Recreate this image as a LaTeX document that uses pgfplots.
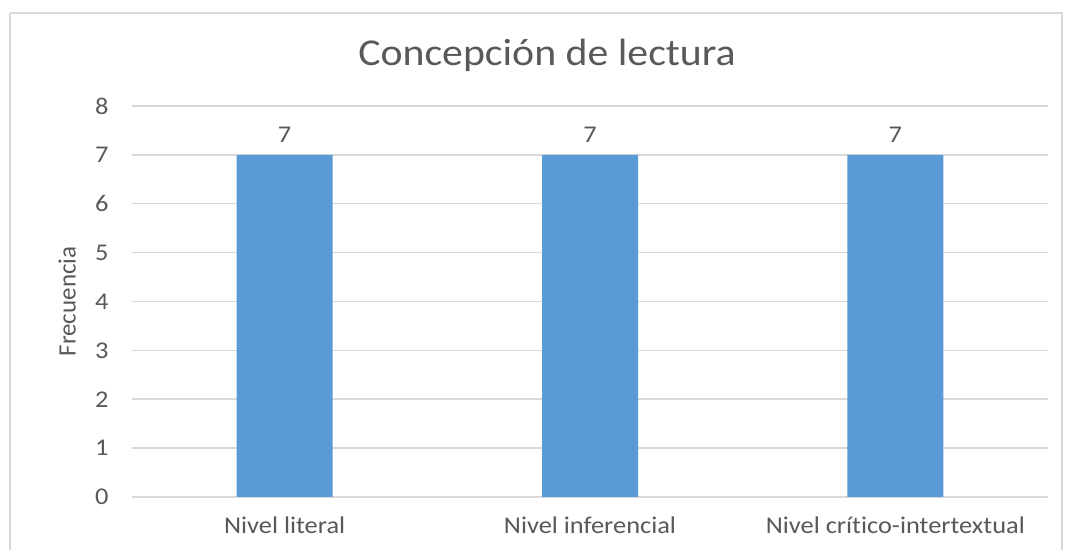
\documentclass[border=0pt]{standalone}
\usepackage{pgfplots}
\pgfplotsset{compat=1.18}
\usepackage{fontspec}
\setmainfont[FakeStretch=1.1, Ligatures={NoCommon}]{Carlito}
\newfontfamily\ylfont[Ligatures={NoCommon}]{Carlito}
\definecolor{txt}{RGB}{89,89,89}
\definecolor{gridc}{RGB}{217,217,217}
\definecolor{barc}{RGB}{91,155,213}
\begin{document}
\begin{tikzpicture}[x=1bp,y=1bp]
\useasboundingbox (0,0) rectangle (1068,550);
\fill[white] (0,0) rectangle (1068,550);
\draw[gridc, line width=1.5bp] (10,537) -- (10,-10);
\draw[gridc, line width=1.5bp] (10,537) -- (1062,537) -- (1062,-10);
\node[txt, font=\fontsize{38bp}{42bp}\selectfont] at (547,495) {Concepción de lectura};
\begin{axis}[
  at={(132bp,53bp)}, anchor=south west,
  scale only axis, width=916bp, height=391bp,
  xmin=-0.5, xmax=2.5, ymin=0, ymax=8,
  ytick={0,1,...,8},
  xtick={0,1,2},
  xticklabels={Nivel literal, Nivel inferencial, Nivel crítico-intertextual},
  xmajorgrids=false,
  ymajorgrids, grid style={draw=gridc, line width=1.5bp},
  axis line style={draw=none},
  major tick length=0pt,
  ticklabel style={txt, font=\fontsize{24bp}{28bp}\selectfont},
  /pgf/number format/assume math mode=true,
  yticklabel style={xshift=-20bp},
  xticklabel style={yshift=-16bp},
  ylabel={\ylfont Frecuencia},
  ylabel style={txt, font=\fontsize{25bp}{28bp}\selectfont, at={(axis description cs:0,0.5)}, anchor=center, yshift=65bp},
  nodes near coords,
  every node near coord/.append style={txt, font=\fontsize{24bp}{28bp}\selectfont, yshift=9bp},
  clip=false,
]
\addplot[ybar, bar width=96bp, fill=barc, draw=none] coordinates {(0,7) (1,7) (2,7)};
\end{axis}
\end{tikzpicture}
\end{document}
